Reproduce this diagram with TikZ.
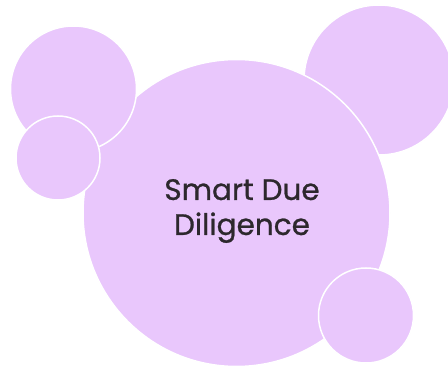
\documentclass[tikz,border=0pt]{standalone}
\usepackage{fontspec}
\setmainfont{Poppins}
\newfontfamily\titlefont[FakeBold=0.9]{Poppins}
\definecolor{lav}{RGB}{233,199,252}
\definecolor{txt}{RGB}{45,40,45}
\begin{document}
\begin{tikzpicture}[x=1pt,y=-1pt,
  bubble/.style={circle,fill=lav,draw=white,line width=1.5pt,inner sep=0pt,minimum size=#1}]
\useasboundingbox (0,0) rectangle (448,369);
\node[bubble=150pt] (tr) at (379,80) {};
\node[bubble=307pt] (main) at (236.5,213) {};
\node[bubble=126pt] (tl) at (73.5,89) {};
\node[bubble=84pt] (sl) at (58,158) {};
\node[bubble=95pt] (br) at (366,315.5) {};
\node[text=txt,font=\titlefont\fontsize{29.5}{35}\selectfont,align=center] (title) at (242,211) {Smart Due\\Diligence};
\end{tikzpicture}
\end{document}
